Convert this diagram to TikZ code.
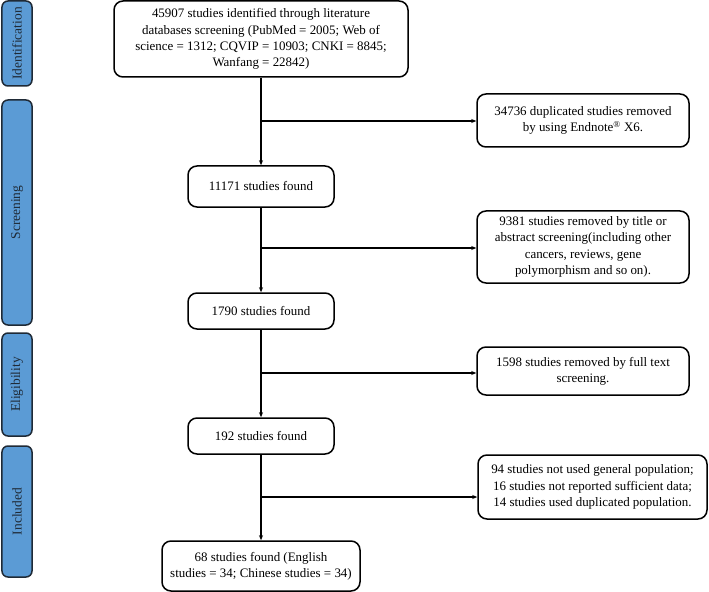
\documentclass[tikz,border=0pt]{standalone}
\usepackage{fontspec}
\setmainfont{Liberation Serif}
\usetikzlibrary{arrows.meta}
\definecolor{barblue}{HTML}{5B9BD5}
\definecolor{bardark}{HTML}{1F2A36}
\begin{document}
\begin{tikzpicture}[x=1bp,y=-1bp,
  box/.style={draw=black,line width=1.5bp,rounded corners=9bp,align=center,
    font=\fontsize{13}{16.3}\selectfont,inner sep=0pt},
  bar/.style={draw=bardark,fill=barblue,line width=1.5bp,rounded corners=6bp,inner sep=0pt},
  barlabel/.style={rotate=90,font=\fontsize{13.5}{16}\selectfont,text=bardark},
  flow/.style={line width=1.4bp,-{Stealth[length=5bp,width=4bp]}},
  plain/.style={line width=1.4bp}]
\useasboundingbox (0,0) rectangle (709,592);
% side bars
\node[bar,minimum width=30bp,minimum height=85bp] (b1) at (17,43.5) {};
\node[barlabel] at (b1) {Identification};
\node[bar,minimum width=30bp,minimum height=225bp] (b2) at (17,212.5) {};
\node[barlabel] at (b2) {Screening};
\node[bar,minimum width=30bp,minimum height=103bp] (b3) at (17,384.5) {};
\node[barlabel] at (b3) {Eligibility};
\node[bar,minimum width=30bp,minimum height=131bp] (b4) at (17,511.5) {};
\node[barlabel] at (b4) {Included};
% main boxes
\node[box,minimum width=294bp,minimum height=76bp] (m1) at (261,39)
  {45907 studies identified through literature\\databases screening (PubMed = 2005; Web of\\science = 1312; CQVIP = 10903; CNKI = 8845;\\Wanfang = 22842)};
\node[box,minimum width=146bp,minimum height=41bp] (m2) at (261,186.5) {11171 studies found};
\node[box,minimum width=146bp,minimum height=36bp] (m3) at (261,311) {1790 studies found};
\node[box,minimum width=146bp,minimum height=36bp] (m4) at (261,436) {192 studies found};
\node[box,minimum width=198bp,minimum height=50bp] (m5) at (261,566)
  {68 studies found (English\\studies = 34; Chinese studies = 34)};
% right boxes
\node[box,minimum width=212bp,minimum height=53bp] (r1) at (583,120.5)
  {34736 duplicated studies removed\\by using Endnote\textsuperscript{®} X6.};
\node[box,minimum width=212bp,minimum height=72bp] (r2) at (583,247)
  {9381 studies removed by title or\\abstract screening(including other\\cancers, reviews, gene\\polymorphism and so on).};
\node[box,minimum width=212bp,minimum height=48bp] (r3) at (583,371)
  {1598 studies removed by full text\\screening.};
\node[box,minimum width=229bp,minimum height=64bp] (r4) at (592.5,487)
  {94 studies not used general population;\\16 studies not reported sufficient data;\\14 studies used duplicated population.};
% branch points
\coordinate (j1) at (261,121);
\coordinate (j2) at (261,248);
\coordinate (j3) at (261,373);
\coordinate (j4) at (261,497);
% connectors
\draw[flow] (m1.south) -- (m2.north);
\draw[flow] (m2.south) -- (m3.north);
\draw[flow] (m3.south) -- (m4.north);
\draw[flow] (m4.south) -- (m5.north);
\draw[flow] (j1) -- (j1 -| r1.west);
\draw[flow] (j2) -- (j2 -| r2.west);
\draw[flow] (j3) -- (j3 -| r3.west);
\draw[flow] (j4) -- (j4 -| r4.west);
\end{tikzpicture}
\end{document}
